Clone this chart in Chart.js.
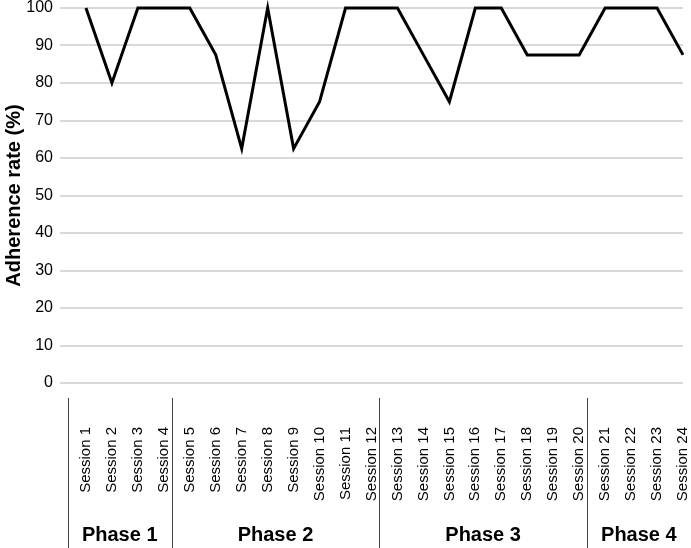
<!DOCTYPE html>
<html>
<head>
<meta charset="utf-8">
<script src="https://cdn.jsdelivr.net/npm/chart.js@4/dist/chart.umd.min.js"></script>
<style>
  html, body { margin: 0; padding: 0; background: #fff; }
  #wrap { width: 691px; height: 548px; position: relative; }
</style>
</head>
<body>
<div id="wrap"><canvas id="c" width="691" height="548"></canvas></div>
<script>
const sessions = ["Session 1","Session 2","Session 3","Session 4","Session 5","Session 6","Session 7","Session 8","Session 9","Session 10","Session 11","Session 12","Session 13","Session 14","Session 15","Session 16","Session 17","Session 18","Session 19","Session 20","Session 21","Session 22","Session 23","Session 24"];
const adherence = [100, 80, 100, 100, 100, 87.5, 62.5, 100, 62.5, 75, 100, 100, 100, 87.5, 75, 100, 100, 87.5, 87.5, 87.5, 100, 100, 100, 87.5];
const phaseLabels = ["Phase 1", "Phase 2", "Phase 3", "Phase 4"];
const phaseBounds = [0.3, 4.3, 12.3, 20.3, 24.3];
const yTicks = [0, 10, 20, 30, 40, 50, 60, 70, 80, 90, 100];

const points = adherence.map((v, i) => ({ x: i + 1, y: v }));

const phasePlugin = {
  id: 'phases',
  afterDraw(chart) {
    const ctx = chart.ctx;
    const xs = chart.scales.x;
    ctx.save();
    ctx.strokeStyle = '#444';
    ctx.lineWidth = 1;
    phaseBounds.forEach(b => {
      const px = Math.round(xs.getPixelForValue(b)) + 0.5;
      ctx.beginPath();
      ctx.moveTo(px, 398);
      ctx.lineTo(px, 548);
      ctx.stroke();
    });
    ctx.fillStyle = '#000';
    ctx.font = 'bold 20px "Liberation Sans", Arial, sans-serif';
    ctx.textAlign = 'center';
    ctx.textBaseline = 'middle';
    phaseLabels.forEach((lab, i) => {
      const cx = (xs.getPixelForValue(phaseBounds[i]) + xs.getPixelForValue(phaseBounds[i + 1])) / 2;
      ctx.fillText(lab, cx, 535);
    });
    ctx.restore();
  }
};

new Chart(document.getElementById('c'), {
  type: 'line',
  data: {
    datasets: [{
      data: points,
      borderColor: '#000',
      borderWidth: 3,
      pointRadius: 0,
      tension: 0,
      fill: false,
      clip: false
    }]
  },
  options: {
    responsive: false,
    animation: false,
    layout: { padding: { top: 8, right: 8, left: 0, bottom: 0 } },
    plugins: { legend: { display: false }, tooltip: { enabled: false } },
    scales: {
      x: {
        type: 'linear',
        min: 0,
        max: 24,
        grid: { display: false, drawTicks: false },
        border: { display: false },
        afterBuildTicks(scale) {
          scale.ticks = sessions.map((s, i) => ({ value: i + 1 }));
        },
        afterFit(scale) {
          scale.height = 165;
          scale.paddingLeft = 0;
          scale.paddingRight = 0;
        },
        ticks: {
          autoSkip: false,
          minRotation: 90,
          maxRotation: 90,
          padding: 44,
          color: '#000',
          font: { family: '"Liberation Sans", Arial, sans-serif', size: 15 },
          callback: (v) => sessions[v - 1] || ''
        }
      },
      y: {
        min: 0,
        max: 100,
        afterBuildTicks(scale) {
          scale.ticks = yTicks.map(v => ({ value: v }));
        },
        afterFit(scale) {
          scale.width = 60;
          scale.paddingTop = 0;
          scale.paddingBottom = 0;
        },
        grid: { color: '#d9d9d9', lineWidth: 2, drawTicks: false },
        border: { display: false },
        ticks: {
          padding: 7,
          color: '#000',
          font: { family: '"Liberation Sans", Arial, sans-serif', size: 16 }
        },
        title: {
          display: true,
          text: 'Adherence rate (%)',
          color: '#000',
          padding: { top: 2, bottom: 0 },
          font: { family: '"Liberation Sans", Arial, sans-serif', size: 20, weight: 'bold' }
        }
      }
    }
  },
  plugins: [phasePlugin]
});
</script>
</body>
</html>
